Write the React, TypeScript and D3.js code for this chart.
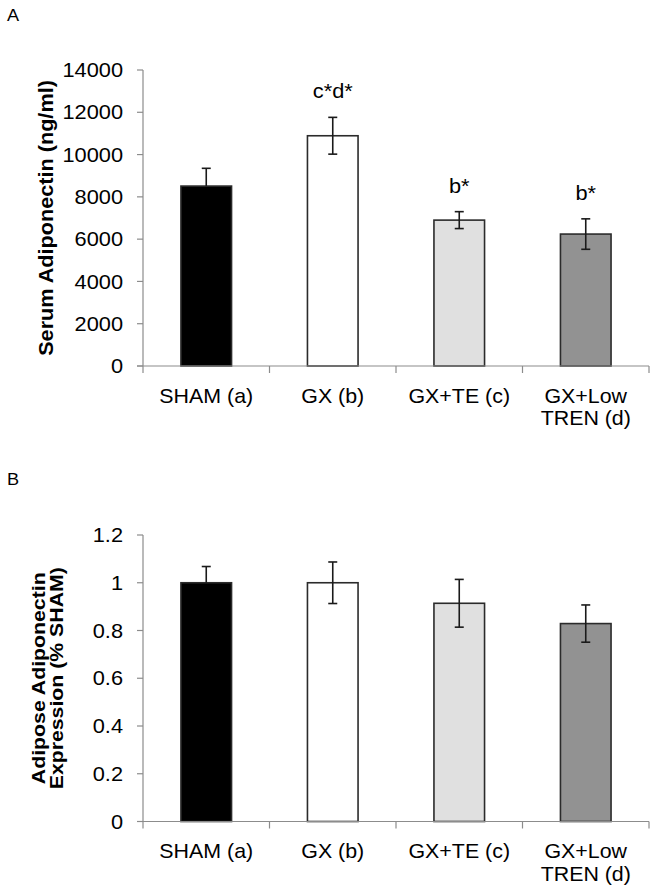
import React from "react";
import * as d3 from "d3";

const categories = ["SHAM (a)", "GX (b)", "GX+TE (c)", "GX+Low TREN (d)"];
const categoryLines = [["SHAM (a)"], ["GX (b)"], ["GX+TE (c)"], ["GX+Low", "TREN (d)"]];
const barColors = ["#000000", "#ffffff", "#e0e0e0", "#929292"];

const serumMeans = [8510, 10890, 6900, 6240];
const serumErrors = [840, 870, 400, 720];
const serumLabels = ["", "c*d*", "b*", "b*"];
const serumTicks = [0, 2000, 4000, 6000, 8000, 10000, 12000, 14000];

const adiposeMeans = [1.0, 1.0, 0.914, 0.829];
const adiposeErrors = [0.068, 0.087, 0.1, 0.078];
const adiposeTicks = [0, 0.2, 0.4, 0.6, 0.8, 1.0, 1.2];

const FONT = "'Liberation Sans', Arial, sans-serif";
const FS = 19.8;
const SX = 1.1;

type PanelProps = {
  letter: string;
  top: number;
  bottom: number;
  yMax: number;
  means: number[];
  errors: number[];
  ticks: number[];
  tickFmt: (v: number) => string;
  labels?: string[];
  titleLines: string[];
  titleX: number[];
  titleFS: number;
  titleSX: number;
  letterY: number;
};

function Panel(p: PanelProps) {
  const left = 143;
  const right = 649;
  const x = d3
    .scaleBand<string>()
    .domain(categories)
    .range([left, right])
    .paddingInner(0.6)
    .paddingOuter(0.3);
  const y = d3.scaleLinear().domain([0, p.yMax]).range([p.bottom, p.top]);
  const step = x.step();
  const bw = x.bandwidth();
  const titleCenter = (p.top + p.bottom) / 2;
  return (
    <g>
      <text
        transform={`translate(7,${p.letterY}) scale(1.08,1)`}
        fontSize={16.8}
        fontFamily={FONT}
        fill="#000"
      >
        {p.letter}
      </text>
      {/* y axis */}
      <line x1={left} x2={left} y1={p.top} y2={p.bottom} stroke="#8c8c8c" strokeWidth={1.2} />
      {p.ticks.map((t) => (
        <g key={t}>
          <line x1={left - 6} x2={left} y1={y(t)} y2={y(t)} stroke="#8c8c8c" strokeWidth={1.2} />
          <text
            transform={`translate(123,${y(t)}) scale(${SX},1)`}
            dy="0.36em"
            textAnchor="end"
            fontSize={FS}
            fontFamily={FONT}
            fill="#000"
          >
            {p.tickFmt(t)}
          </text>
        </g>
      ))}
      {/* y title */}
      {p.titleLines.map((line, i) => (
        <text
          key={i}
          transform={`translate(${p.titleX[i]},${titleCenter}) rotate(-90) scale(${p.titleSX},1)`}
          textAnchor="middle"
          dy="0.36em"
          fontSize={p.titleFS}
          fontWeight="bold"
          fontFamily={FONT}
          fill="#000"
        >
          {line}
        </text>
      ))}
      {/* bars */}
      {categories.map((c, i) => {
        const x0 = x(c)!;
        const cx = x0 + bw / 2;
        const yTop = y(p.means[i]);
        const eTop = y(p.means[i] + p.errors[i]);
        const eBot = y(p.means[i] - p.errors[i]);
        return (
          <g key={c}>
            <rect
              x={x0}
              y={yTop}
              width={bw}
              height={p.bottom - yTop}
              fill={barColors[i]}
              stroke="#2b2b2b"
              strokeWidth={1.6}
            />
            <line x1={cx} x2={cx} y1={eTop} y2={i === 0 ? yTop : eBot} stroke="#1a1a1a" strokeWidth={1.6} />
            <line x1={cx - 4.5} x2={cx + 4.5} y1={eTop} y2={eTop} stroke="#1a1a1a" strokeWidth={1.6} />
            {i !== 0 && (
              <line x1={cx - 4.5} x2={cx + 4.5} y1={eBot} y2={eBot} stroke="#1a1a1a" strokeWidth={1.6} />
            )}
            {p.labels && p.labels[i] && (
              <text
                transform={`translate(${cx},${eTop - 19}) scale(${SX},1)`}
                textAnchor="middle"
                fontSize={FS}
                fontFamily={FONT}
                fill="#000"
              >
                {p.labels[i]}
              </text>
            )}
          </g>
        );
      })}
      {/* x axis */}
      <line x1={left - 6} x2={right} y1={p.bottom} y2={p.bottom} stroke="#8c8c8c" strokeWidth={1.2} />
      {d3.range(categories.length + 1).map((k) => (
        <line
          key={k}
          x1={left + k * step}
          x2={left + k * step}
          y1={p.bottom}
          y2={p.bottom + 7}
          stroke="#8c8c8c"
          strokeWidth={1.2}
        />
      ))}
      {categories.map((c, i) => (
        <text
          key={c}
          transform={`translate(${x(c)! + bw / 2},${p.bottom + 36.5}) scale(1.08,1)`}
          textAnchor="middle"
          fontSize={FS}
          fontFamily={FONT}
          fill="#000"
        >
          {categoryLines[i].map((ln, j) => (
            <tspan key={j} x={0} dy={j === 0 ? 0 : 23}>
              {ln}
            </tspan>
          ))}
        </text>
      ))}
    </g>
  );
}

export default function App() {
  return (
    <svg
      width={656}
      height={890}
      style={{ position: "absolute", left: 0, top: 0, background: "#fff" }}
    >
      <rect width={656} height={890} fill="#fff" />
      <Panel
        letter="A"
        letterY={21}
        top={70}
        bottom={366}
        yMax={14000}
        means={serumMeans}
        errors={serumErrors}
        ticks={serumTicks}
        tickFmt={(v) => String(v)}
        labels={serumLabels}
        titleLines={["Serum Adiponectin (ng/ml)"]}
        titleX={[46]}
        titleFS={19.5}
        titleSX={1.11}
      />
      <Panel
        letter="B"
        letterY={485}
        top={535}
        bottom={821.5}
        yMax={1.2}
        means={adiposeMeans}
        errors={adiposeErrors}
        ticks={adiposeTicks}
        tickFmt={(v) => d3.format("~g")(v)}
        titleLines={["Adipose Adiponectin", "Expression (% SHAM)"]}
        titleX={[38.5, 56.5]}
        titleFS={18.5}
        titleSX={1.15}
      />
    </svg>
  );
}
